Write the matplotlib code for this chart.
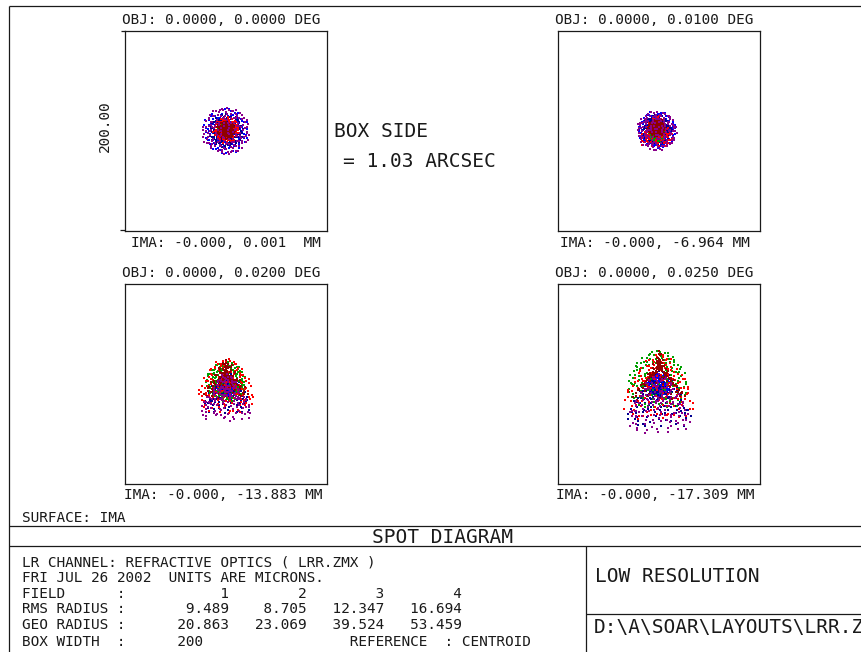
import numpy as np
import matplotlib
matplotlib.use("Agg")
import matplotlib.pyplot as plt

# Field data (text block of the spot diagram)
obj_labels = ["OBJ: 0.0000, 0.0000 DEG", "OBJ: 0.0000, 0.0100 DEG",
              "OBJ: 0.0000, 0.0200 DEG", "OBJ: 0.0000, 0.0250 DEG"]
ima_labels = ["IMA: -0.000, 0.001  MM", "IMA: -0.000, -6.964 MM",
              "IMA: -0.000, -13.883 MM", "IMA: -0.000, -17.309 MM"]
field_ids = [1, 2, 3, 4]
rms_radius = [9.489, 8.705, 12.347, 16.694]
geo_radius = [20.863, 23.069, 39.524, 53.459]
box_width = 200
box_side_arcsec = 1.03

# Wavelength colours (drawn in this order)
wave_colours = ["#0000ff", "#000090", "#00a000", "#ff0000", "#900000", "#8a008a"]

spot_dx = [[0, 0, 0, 0, 0, 0],
           [-2, -2, -2, -2, -2, -2],
           [1, 1, 0, 0, 0, 0],
           [0, 0, -1, 0, 0, 0]]
spot_dy = [[0, 0, 1, 1, 1, 0],
           [1, 1, -4, 3, 3, 0],
           [-2, -4, 2, 1, 10, -8],
           [-1, -8, 6, 2, 18, -15]]
spot_blur = [[23, 17, 8, 13, 9, 24],
             [19, 15, 8, 16, 9, 20],
             [10, 22, 20, 28, 20, 24],
             [11, 30, 30, 34, 24, 30]]
spot_power = [[1.2, 1.1, 1.2, 1.5, 1.6, 0.9],
              [1.2, 1.1, 1.2, 1.9, 1.6, 0.9],
              [1.0, 1.6, 0.8, 1.2, 2.4, 1.4],
              [1.0, 1.4, 0.8, 1.1, 2.3, 1.2]]
spot_coma = [[0, 0, 0, 0, 0, 0],
             [0, 0, 0, -3, 0, 0],
             [0, -4, 0, -3, -5, -5],
             [0, -6, -2, -5, -9, -5]]
rays_per_wave = 150

# Box positions in figure pixels (left, top)
box_pos = [(125, 31), (558, 31), (125, 284), (558, 284)]
box_w, box_h = 202, 200
obj_xy = [(122, 24), (555, 24), (122, 277), (555, 277)]
ima_xy = [(131, 247), (560, 247), (124, 499), (556, 499)]

FIG_W, FIG_H = 862, 652
FONT = "DejaVu Sans Mono"
INK = "#1a1a1a"


def halton(n, base, start):
    """Deterministic low-discrepancy pupil sampling"""
    out = []
    for i in range(start, start + n):
        f, r, k = 1.0, 0.0, i
        while k > 0:
            f /= base
            r += f * (k % base)
            k //= base
        out.append(r)
    return np.array(out)


fig = plt.figure(figsize=(FIG_W / 100, FIG_H / 100), dpi=100)
ax0 = fig.add_axes([0, 0, 1, 1])
ax0.set_xlim(0, FIG_W)
ax0.set_ylim(FIG_H, 0)
ax0.axis("off")

# Frame lines
frame = [([9, FIG_W], [6, 6]), ([9, 9], [6, FIG_H]),
         ([9, FIG_W], [526, 526]), ([9, FIG_W], [546, 546]),
         ([586, 586], [546, FIG_H]), ([586, FIG_W], [614, 614]),
         ([121, 125], [31, 31]), ([120, 125], [230, 230])]
for xs, ys in frame:
    ax0.plot(xs, ys, color=INK, lw=0.9, solid_capstyle="butt")

small = dict(family=FONT, fontsize=10.35, color=INK, va="baseline")
large = dict(family=FONT, fontsize=14, color=INK, va="baseline")

# Spot boxes
for f in range(4):
    left, top = box_pos[f]
    ax = fig.add_axes([left / FIG_W, 1 - (top + box_h) / FIG_H, box_w / FIG_W, box_h / FIG_H])
    ax.set_xlim(-box_width / 2, box_width / 2)
    ax.set_ylim(-box_width / 2, box_width / 2)
    ax.set_xticks([])
    ax.set_yticks([])
    ax.patch.set_alpha(0)
    for sp in ax.spines.values():
        sp.set_color(INK)
        sp.set_linewidth(0.9)
    for w, colour in enumerate(wave_colours):
        start = 1 + 211 * w + 997 * f
        u = halton(rays_per_wave, 2, start)
        v = halton(rays_per_wave, 3, start)
        rho = np.sqrt(u)
        theta = 2 * np.pi * v
        rad = spot_blur[f][w] * rho ** spot_power[f][w]
        c = spot_coma[f][w]
        x = spot_dx[f][w] + rad * np.cos(theta) + c * rho ** 2 * np.sin(2 * theta)
        y = spot_dy[f][w] + rad * np.sin(theta) + c * rho ** 2 * (2 + np.cos(2 * theta))
        ax.scatter(x, y, s=2.4, marker="s", c=colour, linewidths=0)

    ax0.text(obj_xy[f][0], obj_xy[f][1], obj_labels[f], **small)
    ax0.text(ima_xy[f][0], ima_xy[f][1], ima_labels[f], **small)

# Scale label and box side
ax0.text(105, 126, f"{box_width:.2f}", rotation=90, ha="center", va="center",
         family=FONT, fontsize=10.35, color=INK)
ax0.text(334, 137, "BOX SIDE", **large)
ax0.text(343, 167, f"= {box_side_arcsec:.2f} ARCSEC", **large)

# Bottom text block
ax0.text(22, 522, "SURFACE: IMA", **small)
ax0.text(443, 543, "SPOT DIAGRAM", ha="center", **large)

rows = [
    "LR CHANNEL: REFRACTIVE OPTICS ( LRR.ZMX )",
    "FRI JUL 26 2002  UNITS ARE MICRONS.",
    "FIELD      :   " + "".join(f"{v:9d}" for v in field_ids),
    "RMS RADIUS :   " + "".join(f"{v:9.3f}" for v in rms_radius),
    "GEO RADIUS :   " + "".join(f"{v:9.3f}" for v in geo_radius),
    "BOX WIDTH  :      " + f"{box_width:<20d}" + "REFERENCE  : CENTROID",
]
row_y = [567, 582, 598, 613, 629, 646]
for text, y in zip(rows, row_y):
    ax0.text(22, y, text, **small)

ax0.text(595, 582, "LOW RESOLUTION", **large)
ax0.text(594, 633, "D:\\A\\SOAR\\LAYOUTS\\LRR.ZMX", **large)

fig.savefig("out.png", dpi=100, facecolor="white")
